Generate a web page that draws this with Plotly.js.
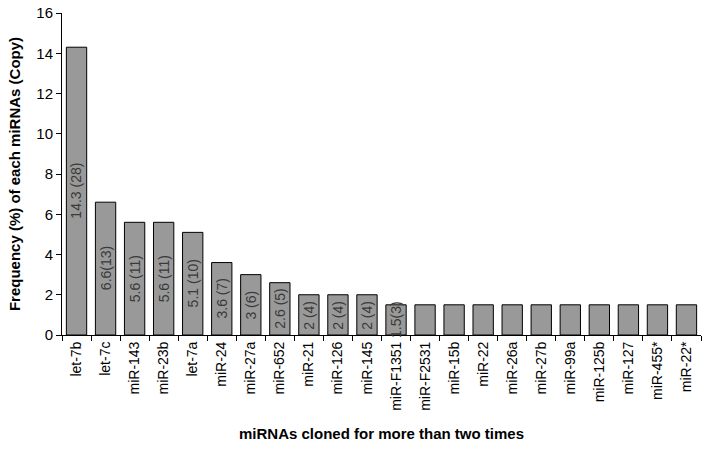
<!DOCTYPE html>
<html>
<head>
<meta charset="utf-8">
<script src="https://cdn.plot.ly/plotly-3.0.1.min.js"></script>
<style>
  html, body { margin: 0; padding: 0; background: #fff; }
  #chart { width: 704px; height: 455px; }
</style>
</head>
<body>
<div id="chart"></div>
<script>
const MIRNAS = [
  'let-7b', 'let-7c', 'miR-143', 'miR-23b', 'let-7a', 'miR-24', 'miR-27a',
  'miR-652', 'miR-21', 'miR-126', 'miR-145', 'miR-F1351', 'miR-F2531',
  'miR-15b', 'miR-22', 'miR-26a', 'miR-27b', 'miR-99a', 'miR-125b',
  'miR-127', 'miR-455*', 'miR-22*',
];
const FREQUENCY = [
  14.3, 6.6, 5.6, 5.6, 5.1, 3.6, 3, 2.6, 2, 2, 2, 1.5, 1.5,
  1.5, 1.5, 1.5, 1.5, 1.5, 1.5, 1.5, 1.5, 1.5,
];
const BAR_LABELS = [
  '14.3 (28)', '6.6(13)', '5.6 (11)', '5.6 (11)', '5.1 (10)', '3.6 (7)',
  '3 (6)', '2.6 (5)', '2 (4)', '2 (4)', '2 (4)', '1.5(3)',
];

const FONT = 'Liberation Sans, Arial, sans-serif';

const trace = {
  type: 'bar',
  x: MIRNAS,
  y: FREQUENCY,
  marker: { color: '#999999', line: { color: '#000', width: 1 } },
  hoverinfo: 'x+y',
};

// labels sit mid-bar, rotated, and may spill past short bars like Excel's
const annotations = BAR_LABELS.map((t, i) => ({
  x: MIRNAS[i],
  y: FREQUENCY[i] / 2,
  text: t,
  textangle: -90,
  showarrow: false,
  font: { family: FONT, size: 14, color: '#3a3a3a' },
}));

const layout = {
  width: 704,
  height: 455,
  margin: { l: 62, r: 3, t: 13, b: 120 },
  paper_bgcolor: '#fff',
  plot_bgcolor: '#fff',
  font: { family: FONT, color: '#000' },
  bargap: 0.3,
  showlegend: false,
  xaxis: {
    type: 'category',
    tickangle: -90,
    tickfont: { size: 14 },
    ticks: 'outside',
    tickson: 'boundaries',
    ticklen: 5,
    tickcolor: '#000',
    showline: true,
    linecolor: '#000',
    linewidth: 1,
    showgrid: false,
    title: {
      text: '<b>miRNAs cloned for more than two times</b>',
      font: { size: 15 },
      standoff: 18,
    },
  },
  yaxis: {
    range: [0, 16],
    dtick: 2,
    tickfont: { size: 15 },
    ticks: 'outside',
    ticklen: 5,
    tickcolor: '#000',
    showline: true,
    linecolor: '#000',
    linewidth: 1,
    showgrid: false,
    zeroline: false,
    title: {
      text: '<b>Frequency (%) of each miRNAs (Copy)</b>',
      font: { size: 15 },
      standoff: 12,
    },
  },
  annotations,
};

Plotly.newPlot('chart', [trace], layout, { displayModeBar: false, staticPlot: true });
</script>
</body>
</html>
